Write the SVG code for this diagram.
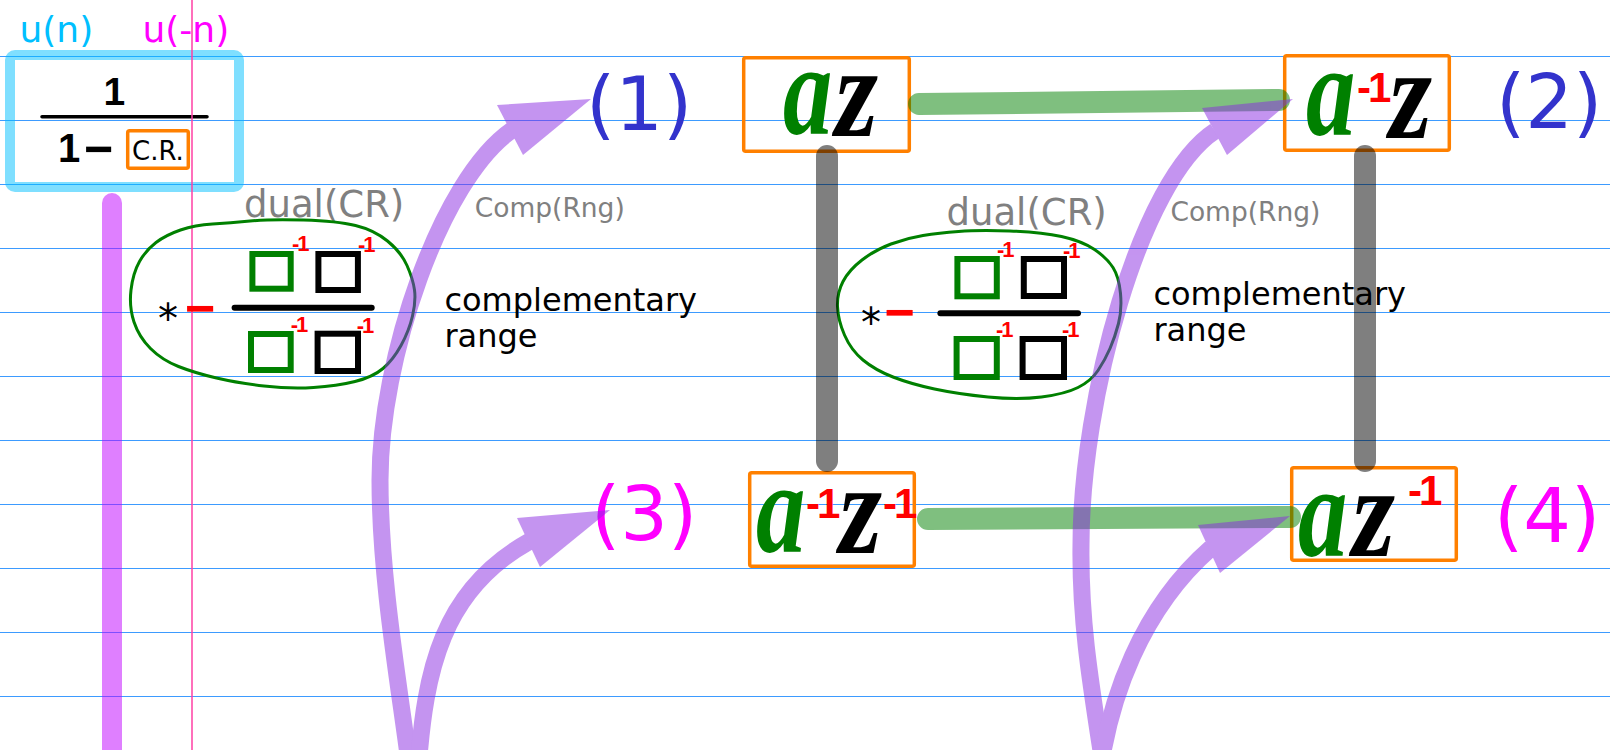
<svg xmlns="http://www.w3.org/2000/svg" width="1610" height="750" viewBox="0 0 1610 750">
<defs>
<style>
.rule{stroke:#3d9bff;stroke-width:1.2}
.box{fill:none;stroke:#ff8000;stroke-width:3.5}
.t{font-family:"DejaVu Sans","Liberation Sans",sans-serif}
.num{font-family:"DejaVu Sans",sans-serif;font-size:75px}
.ia{font-family:"Liberation Serif",serif;font-style:italic;font-weight:bold;font-size:130px;fill:#008000}
.iz{font-family:"Liberation Serif",serif;font-style:italic;font-weight:bold;font-size:130px;fill:#000}
.ex{font-family:"Liberation Sans",sans-serif;font-weight:bold;font-size:42px;fill:#ff0000;letter-spacing:-3px}
.exs{font-family:"Liberation Sans",sans-serif;font-weight:bold;font-size:22px;fill:#ff0000;letter-spacing:-2px}
.hand{font-family:"Liberation Sans",sans-serif;font-weight:bold;fill:#000}
.sqg{fill:none;stroke:#008000;stroke-width:6}
.sqk{fill:none;stroke:#000;stroke-width:6}
.ell{fill:none;stroke:#008000;stroke-width:3}
.frac{stroke:#000;stroke-width:6;stroke-linecap:round}
.gedge{fill:none;stroke:#008000;stroke-opacity:.5;stroke-width:22;stroke-linecap:round}
.kedge{fill:none;stroke:#000;stroke-opacity:.5;stroke-width:22;stroke-linecap:round}
.arrow{opacity:.5}
.arrow path{fill:none;stroke:#8a2be2;stroke-width:17}
.arrow polygon{fill:#8a2be2}
</style>
</defs>
<rect width="1610" height="750" fill="#fff"/>
<g id="ruling">
<line class="rule" x1="0" y1="56.5" x2="1610" y2="56.5"/>
<line class="rule" x1="0" y1="120.5" x2="1610" y2="120.5"/>
<line class="rule" x1="0" y1="184.5" x2="1610" y2="184.5"/>
<line class="rule" x1="0" y1="248.5" x2="1610" y2="248.5"/>
<line class="rule" x1="0" y1="312.5" x2="1610" y2="312.5"/>
<line class="rule" x1="0" y1="376.5" x2="1610" y2="376.5"/>
<line class="rule" x1="0" y1="440.5" x2="1610" y2="440.5"/>
<line class="rule" x1="0" y1="504.5" x2="1610" y2="504.5"/>
<line class="rule" x1="0" y1="568.5" x2="1610" y2="568.5"/>
<line class="rule" x1="0" y1="632.5" x2="1610" y2="632.5"/>
<line class="rule" x1="0" y1="696.5" x2="1610" y2="696.5"/>
</g>
<line id="u-bar" x1="112" y1="203" x2="112" y2="760" stroke="#c000ff" stroke-opacity="0.5" stroke-width="20" stroke-linecap="round"/>
<g id="node-seed">
<rect x="10" y="55" width="229" height="132" rx="5" fill="none" stroke="#00bfff" stroke-opacity="0.5" stroke-width="10"/>
<text class="hand" x="103.5" y="105" font-size="39">1</text>
<line x1="42" y1="116.7" x2="207" y2="116.7" stroke="#000" stroke-width="3.5" stroke-linecap="round"/>
<text class="hand" y="162" font-size="40"><tspan x="58">1</tspan><tspan x="84" y="166" font-size="50">−</tspan></text>
<rect class="box" x="127.7" y="130.7" width="60.6" height="37.6" rx="2"/>
<text class="t" x="132" y="160" font-size="26">C.R.</text>
</g>
<line id="neg-axis" x1="192" y1="0" x2="192" y2="750" stroke="#ff3fa5" stroke-width="1.5"/>
<text class="t" x="19.5" y="42" font-size="36" fill="#00bfff">u(n)</text>
<text class="t" x="142.5" y="42" font-size="36" fill="#ff00ff">u(-n)</text>

<g id="dual-left">
<text class="t" x="244" y="217" font-size="37" fill="#808080">dual(CR)</text>
<path class="ell" d="M212.5 224 Q230 223 250 221 Q270 219 303.5 220 Q337 221 355.5 225.5 Q374 230 387.5 241 Q401 252 407 265.5 Q413 279 414.5 290 Q416 301 412.5 316 Q409 331 401 345.5 Q393 360 383 368.5 Q373 377 355 381.5 Q337 386 313.5 387.5 Q290 389 264 386 Q238 383 216.5 378 Q195 373 178.5 366.5 Q162 360 150.5 348.5 Q139 337 134 322 Q129 307 131 290 Q133 273 139.5 261.5 Q146 250 156 242.5 Q166 235 180.5 230 Q195 225 212.5 224 Z"/>
<text class="t" x="158" y="332.6" font-size="40">*</text>
<text class="hand" x="185" y="326.4" font-size="52" style="fill:#ff0000">−</text>
<rect class="sqg" x="252.4" y="254" width="38.3" height="34.7"/>
<rect class="sqk" x="318.4" y="254" width="39.5" height="36"/>
<line class="frac" x1="234.6" y1="307.7" x2="371.7" y2="307.7"/>
<rect class="sqg" x="251" y="334" width="39.7" height="36"/>
<rect class="sqk" x="317.6" y="333.7" width="40.4" height="37.3"/>
<text class="exs" x="292" y="251">-1</text>
<text class="exs" x="358" y="252">-1</text>
<text class="exs" x="290.7" y="332">-1</text>
<text class="exs" x="356.7" y="333">-1</text>
</g>
<g id="note-left">
<text class="t" x="474.7" y="217.3" font-size="26.5" fill="#808080">Comp(Rng)</text>
<text class="t" font-size="32" fill="#000"><tspan x="444.4" y="310.7">complementary</tspan><tspan x="444.4" y="346.7">range</tspan></text>
</g>

<g id="dual-right">
<text class="t" x="946.5" y="225" font-size="37" fill="#808080">dual(CR)</text>
<path class="ell" d="M923 235.5 Q939 233 958.5 231.5 Q978 230 1009.5 231 Q1041 232 1061.5 236.5 Q1082 241 1094.5 249.5 Q1107 258 1113 267.5 Q1119 277 1120.5 293.5 Q1122 310 1118.5 323.5 Q1115 337 1110 348.5 Q1105 360 1098 370.5 Q1091 381 1078 387.5 Q1065 394 1041.5 397 Q1018 400 988 397 Q958 394 934.5 389 Q911 384 893 377 Q875 370 863 360 Q851 350 844.5 335 Q838 320 837.5 306.5 Q837 293 843 281.5 Q849 270 862 260 Q875 250 891 244 Q907 238 923 235.5 Z"/>
<text class="t" x="861" y="336.6" font-size="40">*</text>
<text class="hand" x="884.5" y="330" font-size="52" style="fill:#ff0000">−</text>
<rect class="sqg" x="957.4" y="259" width="39.4" height="37.3"/>
<rect class="sqk" x="1023.8" y="259" width="40.2" height="37"/>
<line class="frac" x1="940.4" y1="313.3" x2="1078" y2="313.3"/>
<rect class="sqg" x="956.6" y="339" width="40.2" height="38"/>
<rect class="sqk" x="1022.6" y="339" width="41.4" height="38"/>
<text class="exs" x="997" y="257">-1</text>
<text class="exs" x="1063" y="258">-1</text>
<text class="exs" x="996" y="337">-1</text>
<text class="exs" x="1062" y="337">-1</text>
</g>
<g id="note-right">
<text class="t" x="1170.4" y="221" font-size="26.5" fill="#808080">Comp(Rng)</text>
<text class="t" font-size="32" fill="#000"><tspan x="1153.4" y="304.5">complementary</tspan><tspan x="1153.4" y="341">range</tspan></text>
</g>

<g id="node-1">
<rect class="box" x="743.7" y="57.7" width="165.6" height="93.6" rx="2"/>
<text class="ia" transform="translate(783 134) scale(0.76 1)">a</text>
<text class="iz" transform="translate(835 136) scale(0.85 1)">z</text>
</g>
<g id="node-2">
<rect class="box" x="1284.7" y="55.7" width="164.6" height="94.6" rx="2"/>
<text class="ia" transform="translate(1306 135) scale(0.76 1)">a</text>
<text class="ex" x="1357" y="102">-1</text>
<text class="iz" transform="translate(1389 138) scale(0.85 1)">z</text>
</g>
<g id="node-3">
<rect class="box" x="749.7" y="472.7" width="164.6" height="93.6" rx="2"/>
<text class="ia" transform="translate(756 552) scale(0.76 1)">a</text>
<text class="ex" x="806" y="518">-1</text>
<text class="iz" transform="translate(839 553) scale(0.85 1)">z</text>
<text class="ex" x="883" y="518">-1</text>
</g>
<g id="node-4">
<rect class="box" x="1291.7" y="467.7" width="164.6" height="92.6" rx="2"/>
<text class="ia" transform="translate(1298 556) scale(0.76 1)">a</text>
<text class="iz" transform="translate(1352 556) scale(0.85 1)">z</text>
<text class="ex" x="1408" y="505">-1</text>
</g>

<g id="labels">
<text class="num" x="586" y="130" fill="#3333cc">(1)</text>
<text class="num" x="1496" y="128" fill="#3333cc">(2)</text>
<text class="num" x="591" y="540" fill="#ff00ff">(3)</text>
<text class="num" x="1494" y="542" fill="#ff00ff">(4)</text>
</g>

<g id="connectors">
<path class="gedge" d="M919 104 L1279 100"/>
<path class="gedge" d="M928 519 L1290 517"/>
<path class="kedge" d="M827 156 L827 461"/>
<path class="kedge" d="M1365 156 L1365 461"/>
<g class="arrow" id="arrows-left">
<path d="M410 770 C400 690 380 580 380 480 C380 360 440 180 512 130"/>
<polygon points="591,99 497,105 523,155"/>
<path d="M418 770 C425 670 442 590 530 541"/>
<polygon points="610,510 517,518 540,567"/>
</g>
<g class="arrow" id="arrows-right">
<path d="M1104 770 C1090 680 1080 620 1081 545 C1081 400 1140 180 1215 131"/>
<polygon points="1293,99 1202,108 1227,155"/>
<path d="M1100 770 C1110 700 1140 610 1211 548"/>
<polygon points="1290,516 1198,525 1220,573"/>
</g>
</g>
</svg>
